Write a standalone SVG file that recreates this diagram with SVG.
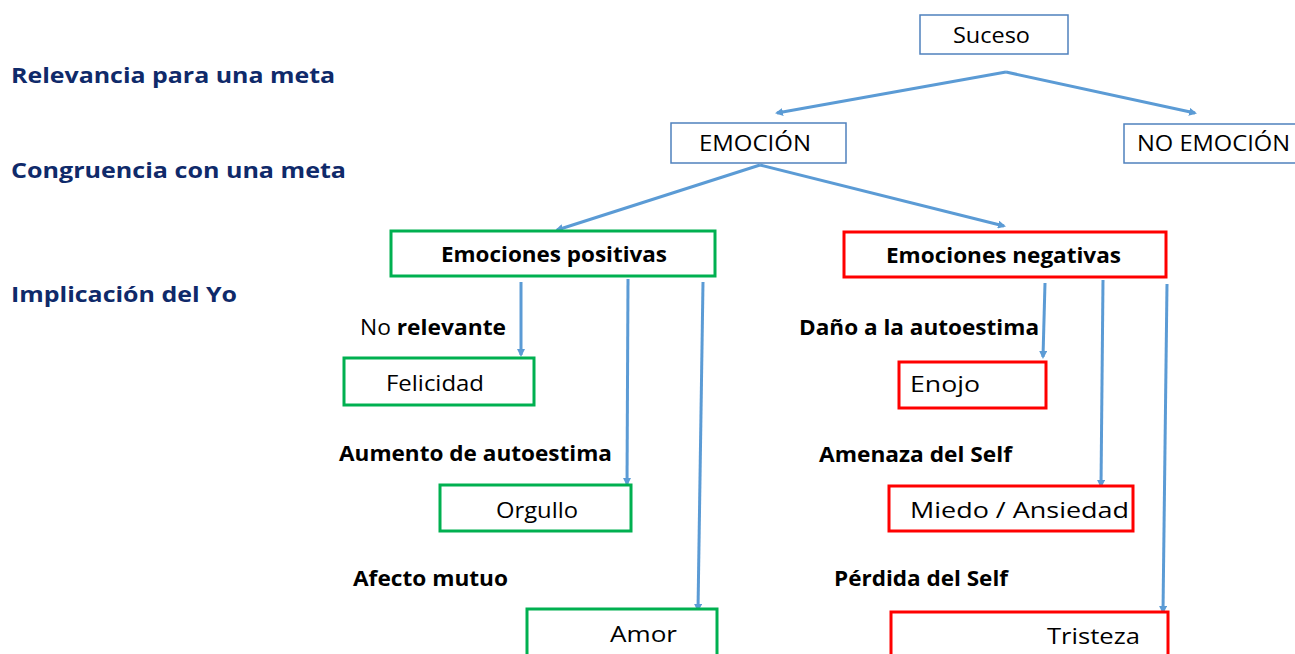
<svg xmlns="http://www.w3.org/2000/svg" width="1295" height="654" viewBox="0 0 1295 654">
<style>
.bg{fill:#ffffff}
.bx{fill:#ffffff;stroke:#4f81bd;stroke-width:1.5}
.gr{fill:#ffffff;stroke:#00b050;stroke-width:3}
.rd{fill:#ffffff;stroke:#ff0000;stroke-width:3}
.t{font-family:"Open Sans","Liberation Sans",sans-serif;font-size:22px;fill:#000000}
.tb{font-family:"Open Sans","Liberation Sans",sans-serif;font-size:21px;font-weight:bold;fill:#000000}
.hd{font-family:"Open Sans","Liberation Sans",sans-serif;font-size:22px;font-weight:bold;fill:#0f2a6a}
.c{fill:none;stroke:#5b9bd5;stroke-width:3;marker-end:url(#ah)}
</style>
<defs>
<marker id="ah" markerWidth="8" markerHeight="8" refX="6" refY="4" orient="auto" markerUnits="userSpaceOnUse" viewBox="0 0 8 8">
<path d="M0,0 L8,4 L0,8 z" fill="#5b9bd5"/>
</marker>
</defs>
<rect class="bg" x="0" y="0" width="1295" height="654"/>
<g id="headings">
<text class="hd" x="11" y="83" textLength="324" lengthAdjust="spacingAndGlyphs">Relevancia para una meta</text>
<text class="hd" x="11" y="178" textLength="335" lengthAdjust="spacingAndGlyphs">Congruencia con una meta</text>
<text class="hd" x="11" y="302" textLength="226" lengthAdjust="spacingAndGlyphs">Implicación del Yo</text>
</g>
<g id="connectors">
<path class="c" d="M1006,72 L777,113"/>
<path class="c" d="M1006,72 L1195,113"/>
<path class="c" d="M760,165 L557,230"/>
<path class="c" d="M760,165 L1004,226"/>
<path class="c" d="M521,282 L521,355"/>
<path class="c" d="M628,279 L627,484"/>
<path class="c" d="M703,282 L698,610"/>
<path class="c" d="M1045,283 L1043,357"/>
<path class="c" d="M1103,280 L1101,486"/>
<path class="c" d="M1167,284 L1163,612"/>
</g>
<g id="suceso">
<rect class="bx" x="920" y="15" width="148" height="39"/>
<text class="t" x="953" y="43" textLength="77" lengthAdjust="spacingAndGlyphs">Suceso</text>
</g>
<g id="emocion">
<rect class="bx" x="671" y="123" width="175" height="40"/>
<text class="t" x="699" y="151" textLength="112" lengthAdjust="spacingAndGlyphs">EMOCIÓN</text>
</g>
<g id="no-emocion">
<rect class="bx" x="1124" y="124" width="180" height="39"/>
<text class="t" x="1137" y="151" textLength="153" lengthAdjust="spacingAndGlyphs">NO EMOCIÓN</text>
</g>
<g id="positivas">
<rect class="gr" x="391" y="231" width="324" height="45"/>
<text class="tb" x="441" y="262" textLength="226" lengthAdjust="spacingAndGlyphs">Emociones positivas</text>
</g>
<g id="negativas">
<rect class="rd" x="844" y="232" width="322" height="45"/>
<text class="tb" x="886" y="263" textLength="235" lengthAdjust="spacingAndGlyphs">Emociones negativas</text>
</g>
<g id="lbl-no-relevante">
<text class="t" x="360" y="335" font-size="21" textLength="146" lengthAdjust="spacingAndGlyphs">No <tspan font-weight="bold">relevante</tspan></text>
</g>
<g id="felicidad">
<rect class="gr" x="344" y="358" width="190" height="47"/>
<text class="t" x="386" y="391" textLength="98" lengthAdjust="spacingAndGlyphs">Felicidad</text>
</g>
<g id="lbl-aumento">
<text class="tb" x="339" y="461" textLength="273" lengthAdjust="spacingAndGlyphs">Aumento de autoestima</text>
</g>
<g id="orgullo">
<rect class="gr" x="440" y="485" width="191" height="46"/>
<text class="t" x="496" y="518" textLength="82" lengthAdjust="spacingAndGlyphs">Orgullo</text>
</g>
<g id="lbl-afecto">
<text class="tb" x="353" y="586" textLength="155" lengthAdjust="spacingAndGlyphs">Afecto mutuo</text>
</g>
<g id="amor">
<rect class="gr" x="527" y="609" width="190" height="50"/>
<text class="t" x="610" y="642" textLength="67" lengthAdjust="spacingAndGlyphs">Amor</text>
</g>
<g id="lbl-dano">
<text class="tb" x="799" y="335" textLength="240" lengthAdjust="spacingAndGlyphs">Daño a la autoestima</text>
</g>
<g id="enojo">
<rect class="rd" x="899" y="362" width="147" height="46"/>
<text class="t" x="910" y="392" textLength="70" lengthAdjust="spacingAndGlyphs">Enojo</text>
</g>
<g id="lbl-amenaza">
<text class="tb" x="819" y="462" textLength="193" lengthAdjust="spacingAndGlyphs">Amenaza del Self</text>
</g>
<g id="miedo">
<rect class="rd" x="889" y="486" width="244" height="45"/>
<text class="t" x="910" y="518" textLength="219" lengthAdjust="spacingAndGlyphs">Miedo / Ansiedad</text>
</g>
<g id="lbl-perdida">
<text class="tb" x="834" y="586" textLength="174" lengthAdjust="spacingAndGlyphs">Pérdida del Self</text>
</g>
<g id="tristeza">
<rect class="rd" x="891" y="612" width="277" height="50"/>
<text class="t" x="1047" y="644" textLength="93" lengthAdjust="spacingAndGlyphs">Tristeza</text>
</g>
</svg>
